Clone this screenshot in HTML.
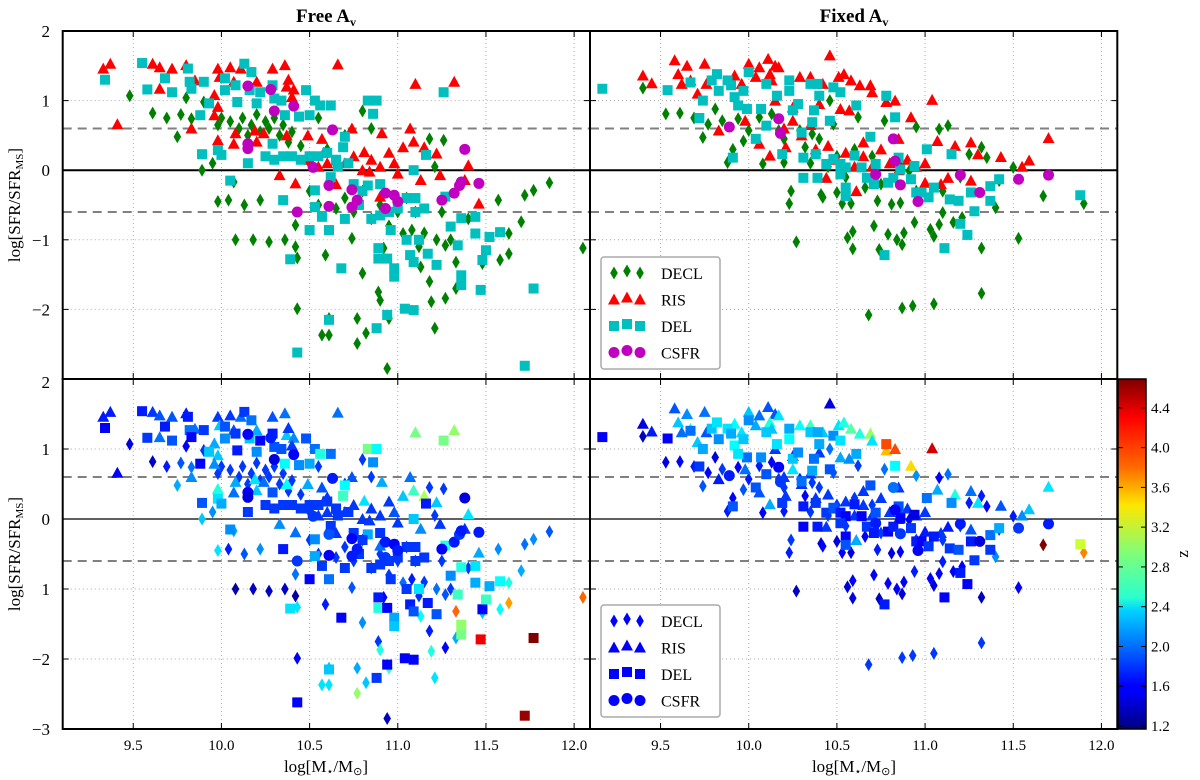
<!DOCTYPE html>
<html><head><meta charset="utf-8">
<style>
html,body{margin:0;padding:0;background:#fff;}
svg{display:block;font-family:"Liberation Serif",serif;}
</style></head>
<body>
<svg id="chart" width="1200" height="780" viewBox="0 0 1200 780" xmlns="http://www.w3.org/2000/svg">
<defs>
<linearGradient id="jetgrad" x1="0" y1="1" x2="0" y2="0">
<stop offset="0" stop-color="#00007f"/><stop offset="0.11" stop-color="#0000ff"/><stop offset="0.125" stop-color="#0000ff"/>
<stop offset="0.34" stop-color="#00d4ff"/><stop offset="0.375" stop-color="#29ffce"/><stop offset="0.5" stop-color="#7dff7a"/>
<stop offset="0.64" stop-color="#ffe600"/><stop offset="0.75" stop-color="#ff6800"/><stop offset="0.89" stop-color="#ff0000"/>
<stop offset="1" stop-color="#7f0000"/>
</linearGradient>
</defs>
<g id="grid"></g>
<g id="marks"></g>
<g id="frames"></g>
<text x="326" y="22" text-anchor="middle" font-size="19" font-weight="bold">Free A<tspan font-size="12" dy="4">v</tspan></text>
<text x="854" y="22" text-anchor="middle" font-size="19" font-weight="bold">Fixed A<tspan font-size="12" dy="4">v</tspan></text>
<text transform="translate(20,205) rotate(-90)" text-anchor="middle" font-size="17">log[SFR/SFR<tspan font-size="11" dy="3">MS</tspan><tspan dy="-3">]</tspan></text>
<text transform="translate(20,554) rotate(-90)" text-anchor="middle" font-size="17">log[SFR/SFR<tspan font-size="11" dy="3">MS</tspan><tspan dy="-3">]</tspan></text>
<text x="326" y="772" text-anchor="middle" font-size="17">log[M<tspan font-size="11" dy="3">⋆</tspan><tspan dy="-3">/M</tspan><tspan font-size="11" dy="3">⊙</tspan><tspan dy="-3">]</tspan></text>
<text x="854" y="772" text-anchor="middle" font-size="17">log[M<tspan font-size="11" dy="3">⋆</tspan><tspan dy="-3">/M</tspan><tspan font-size="11" dy="3">⊙</tspan><tspan dy="-3">]</tspan></text>
<rect x="1118" y="379" width="28" height="350" fill="url(#jetgrad)" stroke="#000" stroke-width="1.5"/>
<g id="cbticks"></g>
<text transform="translate(1188,554) rotate(-90)" text-anchor="middle" font-size="17">z</text>
<g id="legends"></g>
</svg>
<script>
// ---- data (log mass, log SFR/SFR_MS) ----
const xTicks=[9.5,10.0,10.5,11.0,11.5,12.0];
const xTickLabels=["9.5","10.0","10.5","11.0","11.5","12.0"];
const yTicks=[2,1,0,-1,-2];
const yTickLabelsTop=["2","1","0","\u22121","\u22122"];
const yTickLabelsBottom=["2","1","0","1","\u22122","\u22123"];
const yTicksBottom=[2,1,0,-1,-2,-3];
const zTicks=[1.2,1.6,2.0,2.4,2.8,3.2,3.6,4.0,4.4];
const zTickLabels=["1.2","1.6","2.0","2.4","2.8","3.2","3.6","4.0","4.4"];
const seriesNames=["DECL","RIS","DEL","CSFR"];

const freeDECL=[[9.48,1.07],[9.61,0.82],[9.69,0.75],[9.75,0.48],[9.77,0.8],[9.8,1.04],[9.83,0.74],[9.9,0.98],[9.89,0.0],[9.95,0.1],[9.98,-0.45],[10.04,-0.43],[10.07,-0.17],[10.08,-1.0],[10.13,-0.5],[10.18,-1.0],[10.22,-0.43],[10.27,-1.03],[10.36,-1.0],[10.42,-1.1],[10.42,-0.79],[10.43,-1.26],[10.43,-1.99],[10.59,-1.22],[10.61,-2.13],[10.57,-2.37],[10.61,-2.37],[10.74,-0.98],[10.8,-1.48],[10.77,-2.13],[10.77,-2.49],[10.82,-2.34],[10.89,-1.75],[10.9,-1.87],[10.94,-2.85],[10.95,-2.13],[10.92,-1.12],[11.03,-0.91],[11.08,-0.86],[11.13,-1.39],[11.18,-1.6],[11.19,-1.89],[11.21,-2.27],[11.27,-1.84],[11.22,-1.0],[11.27,-1.08],[11.33,-1.32],[11.33,-1.7],[11.48,-1.34],[11.57,-0.43],[11.58,-1.29],[11.63,-0.91],[11.63,-1.2],[11.7,-0.74],[11.72,-0.36],[11.77,-0.29],[11.86,-0.18],[12.05,-1.12],[11.26,0.43],[11.18,0.45],[11.21,0.05],[10.1,0.6],[10.12,0.75],[10.15,0.5],[10.17,0.65],[10.2,0.8],[10.22,0.55],[10.25,0.7],[10.27,0.6],[10.3,0.75],[10.33,0.5],[10.35,0.65],[10.38,0.4],[10.4,0.55],[10.05,0.7],[10.0,0.75],[9.98,0.65],[10.5,-0.3],[10.55,-0.5],[10.6,-0.2],[10.65,-0.55],[10.7,-0.4],[10.75,-0.6],[10.8,-0.3],[10.85,-0.7],[10.9,-0.5],[10.95,-0.8],[11.0,-0.6],[11.05,-0.4],[11.1,-0.6],[11.15,-0.9],[11.25,-0.6],[10.6,0.3],[10.7,0.5],[10.8,0.85],[10.85,0.6],[10.55,0.75],[10.5,0.1],[10.45,0.35],[11.3,-1.0],[11.4,-0.7],[11.12,-1.1]];
const freeRIS=[[9.33,1.46],[9.37,1.53],[9.41,0.66],[9.61,1.53],[9.65,1.48],[9.65,1.17],[9.72,1.46],[9.8,1.51],[9.85,1.29],[9.83,0.6],[9.96,1.08],[9.98,1.46],[9.99,1.34],[10.05,1.48],[10.11,1.46],[10.07,1.27],[9.98,0.91],[9.98,0.43],[9.96,0.79],[10.07,0.38],[10.08,0.53],[10.2,0.41],[10.19,0.57],[10.24,0.53],[10.2,1.27],[10.29,1.46],[10.36,1.51],[10.37,1.2],[10.41,1.16],[10.37,0.5],[10.33,-0.07],[10.42,-0.19],[10.49,0.5],[10.57,0.45],[10.66,1.52],[10.65,0.14],[10.74,0.6],[10.81,0.26],[10.84,-0.02],[10.9,-0.38],[10.91,0.53],[10.98,0.1],[11.03,0.33],[11.07,0.6],[11.09,0.41],[11.1,1.24],[11.15,0.33],[11.13,-0.14],[11.22,0.24],[11.24,-0.07],[11.32,1.27],[11.4,0.07],[11.46,-0.48],[11.38,-0.14],[10.5,0.15],[10.55,0.05],[10.6,0.1],[10.7,0.1],[10.75,0.2],[10.8,0.0],[10.85,0.15],[10.9,0.05],[10.95,0.25],[11.0,-0.05],[10.65,-0.2],[10.58,0.25],[10.38,1.3],[10.4,1.05]];
const freeDEL=[[9.34,1.3],[9.55,1.54],[9.58,1.16],[9.68,1.32],[9.72,1.12],[9.81,1.46],[9.82,1.27],[9.83,1.17],[9.9,1.27],[9.93,0.96],[9.88,0.79],[9.89,0.23],[9.98,0.29],[10.0,0.22],[10.02,1.32],[10.02,1.15],[10.08,1.22],[10.09,0.98],[10.13,1.53],[10.17,1.41],[10.16,1.15],[10.2,0.96],[10.22,1.12],[10.29,1.22],[10.3,1.03],[10.34,1.0],[10.36,0.79],[10.44,0.77],[10.48,1.15],[10.53,1.0],[10.56,0.93],[10.62,0.93],[10.5,0.79],[10.29,0.38],[10.15,0.1],[10.05,-0.15],[10.35,-0.43],[10.39,-1.28],[10.43,-2.62],[10.5,-0.86],[10.53,-0.29],[10.53,-0.53],[10.57,-0.67],[10.61,-0.86],[10.61,-2.15],[10.68,-1.41],[10.69,0.33],[10.7,0.48],[10.83,1.0],[10.88,1.0],[10.86,0.81],[10.83,-0.22],[10.89,-1.12],[10.89,-1.27],[10.88,-2.27],[10.94,-2.08],[10.94,-1.27],[10.98,-1.41],[10.98,-1.53],[10.96,-0.86],[11.04,-1.99],[11.09,-2.01],[11.05,-1.0],[11.07,-1.22],[11.09,-1.32],[11.12,-1.0],[11.17,-1.2],[11.22,-1.36],[11.09,0.0],[11.16,0.22],[11.26,1.12],[11.27,-0.38],[11.3,-0.81],[11.34,-1.08],[11.36,-1.51],[11.36,-1.65],[11.36,-0.69],[11.44,-0.67],[11.44,-0.91],[11.47,-1.72],[11.48,-1.29],[11.5,-1.15],[11.52,-0.96],[11.58,-0.89],[11.72,-2.81],[11.77,-1.7],[10.4,0.2],[10.45,0.15],[10.5,0.2],[10.55,0.2],[10.6,0.25],[10.65,0.15],[10.72,0.1],[10.75,-0.2],[10.8,-0.3],[10.85,-0.7],[10.9,-0.65],[10.95,-0.6],[11.0,-0.55],[11.05,-0.4],[11.1,-0.6],[11.15,-0.55],[11.1,-0.4],[10.9,-0.2],[10.7,-0.7],[10.78,-0.5],[10.25,0.2],[10.3,0.15],[10.35,0.2],[10.62,-0.1],[10.66,0.05]];
const freeCSFR=[[10.15,1.21],[10.28,1.16],[10.3,0.85],[10.41,0.92],[10.15,0.38],[10.15,0.31],[10.63,0.58],[10.52,0.04],[10.61,-0.22],[10.74,-0.28],[10.77,-0.43],[10.74,-0.53],[10.61,-0.52],[10.43,-0.6],[10.93,-0.33],[10.98,-0.36],[11.0,-0.45],[10.93,-0.55],[11.25,-0.43],[11.32,-0.33],[11.35,-0.22],[11.36,-0.17],[11.46,-0.19],[11.38,0.3]];

const fixDECL=[[9.4,1.18],[9.53,0.81],[9.61,0.82],[9.69,0.75],[9.74,0.47],[9.77,0.66],[9.81,0.88],[9.85,0.71],[9.88,0.11],[9.91,0.3],[9.94,0.74],[9.97,0.42],[10.0,0.57],[10.06,0.76],[10.08,0.09],[10.13,0.81],[10.17,0.57],[10.2,0.11],[10.24,-0.3],[10.23,-0.48],[10.27,-1.03],[10.29,0.57],[10.32,0.33],[10.36,0.52],[10.41,-0.35],[10.42,-0.39],[10.46,1.0],[10.48,0.66],[10.5,-0.32],[10.53,-0.48],[10.56,-0.97],[10.58,-0.48],[10.59,-0.88],[10.59,-1.13],[10.62,0.76],[10.66,-0.25],[10.71,-0.8],[10.73,-0.44],[10.74,-1.14],[10.77,0.71],[10.79,-0.92],[10.81,-0.49],[10.84,-1.0],[10.86,-0.47],[10.87,-1.07],[10.88,-0.9],[10.91,-0.01],[10.94,-0.75],[10.95,0.62],[11.03,-0.85],[11.05,-0.95],[11.08,-0.78],[11.08,0.59],[11.1,-0.61],[11.13,0.64],[11.16,-0.75],[11.21,-0.68],[11.25,0.23],[11.32,-1.12],[11.32,0.33],[11.35,0.18],[11.4,-0.54],[11.42,-0.15],[11.5,0.04],[11.53,-0.98],[11.67,-0.37],[11.9,-0.48],[10.68,-2.08],[10.87,-1.98],[10.93,-1.95],[11.05,-1.92],[11.32,-1.77],[10.35,0.1],[10.45,0.05],[10.55,-0.1],[10.6,0.3],[10.7,0.2],[10.75,-0.2],[10.85,0.1],[10.95,-0.3],[11.0,-0.2],[11.1,-0.3],[11.2,-0.1],[10.4,0.45],[10.2,0.45],[10.5,0.2]];
const fixRIS=[[9.4,1.36],[9.45,1.25],[9.58,1.58],[9.65,1.5],[9.75,1.53],[9.6,1.38],[9.62,1.24],[9.67,1.29],[9.71,1.1],[9.76,1.24],[9.83,0.57],[9.92,1.36],[9.96,1.24],[10.0,1.53],[10.04,1.34],[10.06,1.48],[10.11,1.6],[10.15,1.5],[10.17,1.48],[10.12,1.38],[10.13,1.29],[9.98,0.71],[10.06,0.38],[10.12,0.21],[10.21,0.33],[10.25,0.71],[10.29,1.34],[10.35,1.34],[10.42,1.24],[10.46,1.65],[10.51,1.34],[10.54,1.38],[10.58,1.29],[10.63,1.22],[10.69,1.22],[10.7,1.12],[10.52,0.88],[10.57,0.86],[10.44,-0.11],[10.61,-0.3],[10.78,0.98],[10.83,1.0],[10.92,0.76],[11.04,1.01],[11.07,0.42],[11.17,0.35],[11.26,0.4],[11.3,0.23],[11.43,0.19],[11.59,0.14],[11.7,0.46],[11.55,0.05],[11.0,-0.18],[11.09,-0.2],[11.26,-0.15],[11.13,-0.11],[10.3,0.5],[10.38,0.3],[10.45,0.35],[10.5,0.15],[10.55,0.25],[10.6,0.05],[10.65,0.2],[10.7,0.05],[10.75,0.3],[10.8,0.1],[10.85,0.0],[10.9,0.15],[10.95,0.05],[11.0,0.1],[10.2,0.6],[10.25,0.9],[10.35,0.65],[10.4,0.95],[10.15,1.0],[10.65,0.4],[10.85,0.45]];
const fixDEL=[[9.17,1.17],[9.54,1.15],[9.67,1.26],[9.74,1.0],[9.72,0.75],[9.79,1.29],[9.82,1.38],[9.83,1.14],[9.88,1.29],[9.9,1.22],[9.92,1.05],[9.97,1.14],[9.99,0.88],[10.0,1.41],[9.94,0.93],[10.04,0.45],[10.1,1.24],[10.07,0.88],[10.1,0.64],[10.16,1.07],[10.23,1.29],[10.23,1.14],[10.25,0.86],[10.28,0.95],[10.3,0.54],[10.19,0.23],[9.91,0.18],[10.35,1.24],[10.39,1.24],[10.4,1.07],[10.37,0.86],[10.36,0.69],[10.48,1.19],[10.52,1.12],[10.46,0.71],[10.61,0.93],[10.78,1.07],[10.83,0.76],[10.69,0.48],[10.31,0.18],[10.38,0.23],[10.31,-0.11],[10.39,-0.11],[10.44,0.09],[10.48,0.16],[10.52,0.09],[10.55,0.04],[10.52,-0.06],[10.55,-0.25],[10.55,-0.37],[10.6,0.21],[10.64,0.04],[10.67,-0.11],[10.72,0.09],[10.71,-0.2],[10.79,-0.18],[10.82,-0.11],[10.85,0.18],[10.86,0.01],[10.92,-0.13],[10.94,0.06],[10.95,-0.32],[10.98,-0.32],[11.01,0.3],[11.02,-0.39],[11.05,-0.25],[11.15,0.23],[11.14,-0.42],[11.19,-0.44],[11.26,-0.32],[11.28,-0.59],[11.37,-0.23],[11.37,-0.44],[11.42,-0.13],[11.2,-0.77],[11.24,-0.93],[11.11,-1.12],[10.77,-1.22],[11.88,-0.36]];
const fixCSFR=[[9.89,0.62],[10.17,0.74],[10.18,0.53],[10.82,0.45],[10.83,0.13],[10.72,-0.06],[10.86,-0.21],[10.96,-0.45],[11.2,-0.07],[11.31,-0.32],[11.53,-0.13],[11.7,-0.07]];

// redshift per point (first entries of each series; remaining points default to zDefault)
const zDefault=1.8;
const zFreeDECL=[1.5,1.4,1.7,2.2,1.9,1.6,2.0,1.8,2.3,2.1,2.4,1.7,2.2,1.3,1.9,1.4,2.1,1.4,1.4,1.3,2.0,2.4,1.6,1.7,2.3,2.4,2.4,1.9,2.1,2.2,3.0,2.3,1.8,2.6,1.4,2.7,1.6,2.0,1.7,2.5,1.7,2.6,2.4,1.6,2.0,1.9,3.9,2.2,2.3,2.1,2.5,2.6,3.7,2.2,2.0,2.1,1.9,3.9];
const zFreeRIS=[1.7,1.7,1.6,1.8,1.9,2.0,1.9,1.7,2.0,2.1,2.2,1.8,2.3,1.8,2.0,1.9,2.3,2.6,2.1,2.0,2.2,2.3,2.4,2.0,2.2,1.9,2.0,2.3,2.1,2.5,2.1,2.0,2.2,1.9,2.0,2.1,1.9,2.4,1.8,2.0,2.2,1.9,2.3,2.0,2.7,2.9,3.1,2.1,2.3,1.8,3.0,2.4,2.2,1.8];
const zFreeDEL=[1.6,1.7,1.8,1.7,1.9,1.7,2.0,1.6,1.8,2.3,1.6,1.9,2.4,2.2,1.9,2.1,1.8,1.7,1.8,2.0,2.3,2.1,1.6,1.7,1.9,1.9,2.5,2.1,1.9,2.0,2.6,2.0,2.2,1.9,1.8,2.1,1.7,2.4,1.6,1.6,2.1,2.2,1.8,2.0,2.3,1.6,2.7,2.5,2.9,2.5,2.1,2.2,1.7,2.6,1.8,1.6,1.6,2.2,2.3,1.8,1.6,1.6,1.8,1.7,1.9,2.4,1.7,1.9,2.3,1.7,2.9,2.6,2.1,2.7,3.0,2.9,2.6,2.4,2.2,4.3,1.6,2.7,2.2,2.5,4.6,4.7];
const zFreeCSFR=[1.6,1.7,1.5,1.6,1.6,1.5,1.7,1.8,1.9,1.6,1.7,1.7,1.6,1.8,1.7,1.6,1.7,1.8,1.6,1.7,1.8,1.7,1.7,1.5];
const zFixDECL=[1.4,1.5,1.6,1.7,1.9,1.6,1.5,1.8,1.7,1.6,1.6,1.9,1.7,1.7,1.6,1.6,1.8,1.7,1.8,1.7,1.4,1.7,1.6,1.8,1.5,1.6,2.0,1.9,1.5,1.6,1.5,1.5,1.6,1.5,1.8,1.6,1.6,1.7,1.4,2.0,1.6,1.5,1.6,1.6,1.5,1.6,1.6,1.7,2.1,1.6,1.5,1.6,1.6,1.7,2.0,1.6,1.6,1.7,1.4,1.7,1.6,2.1,1.8,1.7,1.6,4.7,3.8];
const zFixRIS=[1.5,1.7,1.9,2.1,2.0,2.3,2.0,2.6,2.3,1.9,1.7,2.5,2.4,2.3,2.2,2.0,1.9,1.9,2.4,2.6,2.3,2.0,1.9,2.2,1.8,2.4,2.5,2.7,2.3,1.5,2.4,2.6,2.8,2.6,3.0,2.4,2.2,2.1,1.8,2.2,3.6,4.0,3.5,4.4,2.2,2.6,2.0,2.4,1.9,2.3,2.4,2.1,1.7,1.8,1.9,1.7];
const zFixDEL=[1.6,1.6,2.0,2.2,1.8,2.3,2.4,2.1,2.4,2.2,2.5,2.3,2.0,2.1,2.4,1.9,2.3,2.1,1.9,2.4,2.2,2.5,2.3,2.1,2.0,1.8,1.9,2.3,2.2,2.2,2.0,2.2,2.1,2.4,1.9,2.2,4.0,2.5,1.9,1.7,1.8,1.6,1.7,1.8,1.9,1.7,1.6,1.8,1.6,1.9,1.7,1.6,1.8,1.9,1.7,1.6,1.7,1.9,1.6,1.8,1.5,1.7,1.6,2.0,1.8,1.7,2.1,1.8,1.9,1.7,1.8,2.0,1.8,2.2,1.7,1.6,1.6,1.7,3.2];
const zFixCSFR=[1.7,1.6,1.8,2.0,1.6,1.7,1.8,1.6,1.7,1.5,1.8,1.7];

const ZMIN=1.17, ZMAX=4.69;
const XMIN=9.1, XMAX=12.09, YMIN=-3, YMAX=2;
const NS="http://www.w3.org/2000/svg";
const colL=[62.7,590], colW=527.3;
const rowT=[31,379], rowH=[348,350];
function sx(c,m){return colL[c]+(m-XMIN)/(XMAX-XMIN)*colW;}
function sy(r,v){return rowT[r]+(YMAX-v)/(YMAX-YMIN)*rowH[r];}
function jet(z){
  let t=(z-ZMIN)/(ZMAX-ZMIN); t=Math.max(0,Math.min(1,t));
  const cl=v=>Math.round(255*Math.max(0,Math.min(1,v)));
  const r=cl(Math.min(4*t-1.5,-4*t+4.5));
  const g=cl(Math.min(4*t-0.5,-4*t+3.5));
  const b=cl(Math.min(4*t+0.5,-4*t+2.5));
  return `rgb(${r},${g},${b})`;
}
function el(tag,attrs,parent){const e=document.createElementNS(NS,tag);for(const k in attrs)e.setAttribute(k,attrs[k]);parent.appendChild(e);return e;}
function marker(kind,x,y,fill,parent){
  let e;
  if(kind===0) e=el('path',{d:`M${x},${y-6.5}L${x+3.8},${y}L${x},${y+6.5}L${x-3.8},${y}Z`,fill:fill},parent);
  else if(kind===1) e=el('path',{d:`M${x},${y-6}L${x+6},${y+5}L${x-6},${y+5}Z`,fill:fill},parent);
  else if(kind===2) e=el('rect',{x:x-5,y:y-5,width:10,height:10,fill:fill},parent);
  else e=el('circle',{cx:x,cy:y,r:5.5,fill:fill},parent);
  return e;
}
const grid=document.getElementById('grid'), marks=document.getElementById('marks'), frames=document.getElementById('frames');
// grid and reference lines
for(let r=0;r<2;r++)for(let c=0;c<2;c++){
  xTicks.forEach(t=>{const X=sx(c,t);if(X<colL[c]+colW-1){
    const g=el('line',{x1:X,x2:X,y1:rowT[r],y2:rowT[r]+rowH[r],stroke:'#aaa','stroke-width':1,'stroke-dasharray':'1,3'},grid);
    
    }});
  yTicks.forEach(t=>{const Y=sy(r,t);
    const g=el('line',{x1:colL[c],x2:colL[c]+colW,y1:Y,y2:Y,stroke:'#aaa','stroke-width':1,'stroke-dasharray':'1,3'},grid);
    
    });
  [0.6,-0.6].forEach(t=>{const Y=sy(r,t);
    const d=el('line',{x1:colL[c],x2:colL[c]+colW,y1:Y,y2:Y,stroke:'#808080','stroke-width':2,'stroke-dasharray':'9,6'},grid);
    
    });
  const Y0=sy(r,0);
  const z=el('line',{x1:colL[c],x2:colL[c]+colW,y1:Y0,y2:Y0,stroke:'#000','stroke-width':r?1.3:2},grid);
  
  
}
// markers
const topColors=['#008000','#ff0000','#00bfbf','#bf00bf'];
const panels=[[freeDECL,freeRIS,freeDEL,freeCSFR],[fixDECL,fixRIS,fixDEL,fixCSFR]];
const zs=[[zFreeDECL,zFreeRIS,zFreeDEL,zFreeCSFR],[zFixDECL,zFixRIS,zFixDEL,zFixCSFR]];
for(let c=0;c<2;c++){
  for(let k=0;k<4;k++){
    panels[c][k].forEach((p,i)=>{
      const m=marker(k,sx(c,p[0]),sy(0,p[1]),topColors[k],marks);
      
      
    });
  }
  for(let k=0;k<4;k++){
    panels[c][k].forEach((p,i)=>{
      const zv=i<zs[c][k].length?zs[c][k][i]:zDefault;
      const m=marker(k,sx(c,p[0]),sy(1,p[1]),jet(zv),marks);
      
      
    });
  }
}
// frames & ticks
for(let r=0;r<2;r++)for(let c=0;c<2;c++){
  const f=el('rect',{x:colL[c],y:rowT[r],width:colW,height:rowH[r],fill:'none',stroke:'#000','stroke-width':2},frames);
  
  
  xTicks.forEach(t=>{const X=sx(c,t);
    el('line',{x1:X,x2:X,y1:rowT[r],y2:rowT[r]+6,stroke:'#000','stroke-width':1},frames);
    el('line',{x1:X,x2:X,y1:rowT[r]+rowH[r],y2:rowT[r]+rowH[r]-6,stroke:'#000','stroke-width':1},frames);});
  yTicks.forEach(t=>{const Y=sy(r,t);
    el('line',{x1:colL[c],x2:colL[c]+6,y1:Y,y2:Y,stroke:'#000','stroke-width':1},frames);
    el('line',{x1:colL[c]+colW,x2:colL[c]+colW-6,y1:Y,y2:Y,stroke:'#000','stroke-width':1},frames);});
}
// tick labels
yTicks.forEach((t,i)=>{const tx=el('text',{x:50,y:sy(0,t)+6,'text-anchor':'end','font-size':17},frames);tx.textContent=yTickLabelsTop[i];
  
  });
yTicksBottom.forEach((t,i)=>{const tx=el('text',{x:50,y:sy(1,t)+(t===2?9:6),'text-anchor':'end','font-size':17},frames);tx.textContent=yTickLabelsBottom[i];
  
  });
for(let c=0;c<2;c++)xTicks.forEach((t,i)=>{const tx=el('text',{x:sx(c,t),y:750,'text-anchor':'middle','font-size':15},frames);tx.textContent=xTickLabels[i];
  
  });
// colorbar ticks
const cb=document.getElementById('cbticks');
zTicks.forEach((t,i)=>{const Y=729-(t-ZMIN)/(ZMAX-ZMIN)*350;
  el('line',{x1:1146,x2:1141,y1:Y,y2:Y,stroke:'#000','stroke-width':1},cb);
  el('line',{x1:1118,x2:1123,y1:Y,y2:Y,stroke:'#000','stroke-width':1},cb);
  const tx=el('text',{x:1151,y:Y+5,'font-size':15},cb);tx.textContent=zTickLabels[i];
  
  });
// legends
const lg=document.getElementById('legends');
[[257,false],[605,true]].forEach(([top,blue])=>{
  const box=el('rect',{x:601,y:top,width:119,height:112,rx:3,fill:'#fff',stroke:'#aaa','stroke-width':1.5},lg);
  
  
  seriesNames.forEach((n,k)=>{
    const y=top+16+k*26.5;
    [614,627,640].forEach((x,j)=>{marker(k,x,y+(j===1?-2:0),blue?'#0000ff':topColors[k],lg);});
    const tx=el('text',{x:661,y:y+6,'font-size':16},lg);tx.textContent=n;
    
    
  });
});
</script>
</body></html>
